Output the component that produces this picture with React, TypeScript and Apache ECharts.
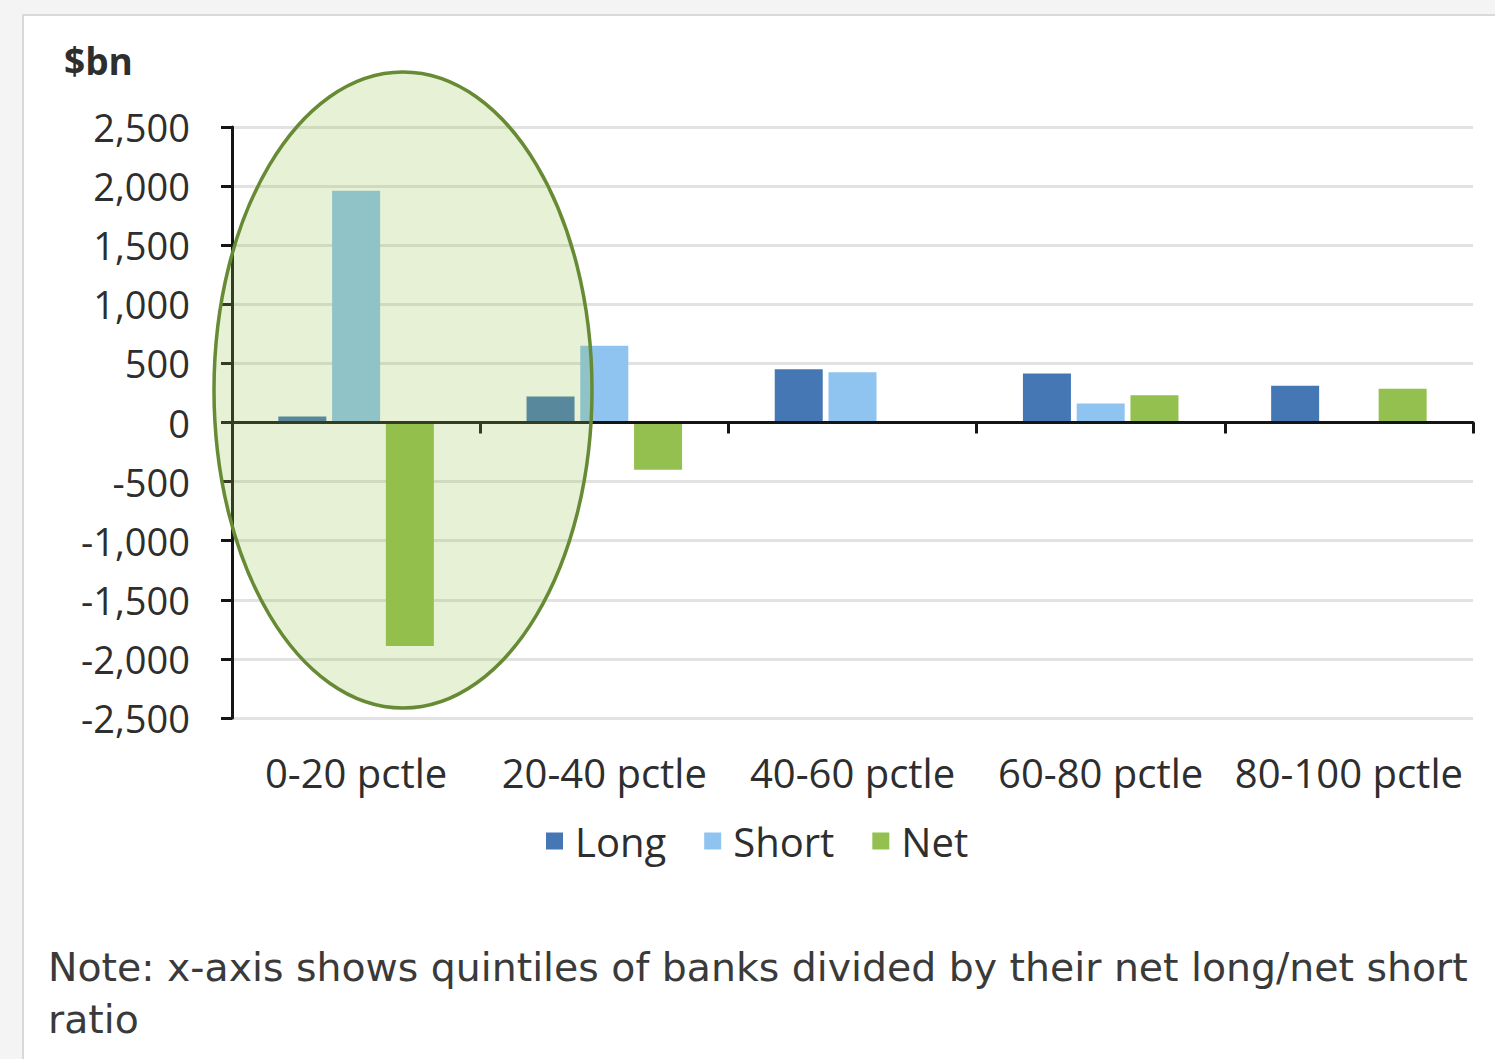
import React, { useEffect, useRef } from "react";
import * as echarts from "echarts";

// Quintile buckets of banks, ranked by net long / net short ratio
const categories = ["0-20 pctle", "20-40 pctle", "40-60 pctle", "60-80 pctle", "80-100 pctle"];

// Positions in $bn
const longValues = [50, 220, 450, 415, 310];
const shortValues = [1960, 650, 425, 160, 0];
const netValues = [-1890, -400, 0, 230, 285];

const yTicks = { min: -2500, max: 2500, interval: 500 };

const noteLines = [
  "Note: x-axis shows quintiles of banks divided by their net long/net short",
  "ratio",
];

const FONT = "'Open Sans', 'Noto Sans', sans-serif";
const NOTE_FONT = "'DejaVu Sans', 'Open Sans', sans-serif";
const TEXT = "#2e2e2e";

export default function App() {
  const ref = useRef<HTMLDivElement>(null);

  useEffect(() => {
    if (!ref.current) return;
    const chart = echarts.init(ref.current, null, { renderer: "svg" });

    const grid = { left: 232, right: 22, top: 127, bottom: 341 };

    // one text element per note line, 52px apart
    const noteGraphics = noteLines.map((line, i) => ({
      type: "text",
      left: 48,
      top: 947 + i * 52,
      style: {
        text: line,
        font: `39.4px ${NOTE_FONT}`,
        fill: "#3a3a3a",
      },
    }));

    chart.setOption({
      animation: false,
      backgroundColor: "#f4f4f4",
      textStyle: { fontFamily: FONT },
      grid,
      legend: {
        data: ["Long", "Short", "Net"],
        left: 541,
        top: 816,
        icon: "rect",
        itemWidth: 17,
        itemHeight: 17,
        itemGap: 38,
        textStyle: { fontSize: 40, color: TEXT, fontFamily: FONT, padding: [0, 0, 0, 7] },
      },
      xAxis: [
        {
          type: "category",
          data: categories,
          axisLine: { onZero: true, lineStyle: { color: "#151515", width: 3 } },
          axisTick: { show: true, length: 11, lineStyle: { color: "#151515", width: 3 } },
          axisLabel: { show: false },
          splitLine: { show: false },
          z: 3,
        },
        {
          type: "category",
          data: categories,
          position: "bottom",
          axisLine: { show: false, onZero: false },
          axisTick: { show: false },
          axisLabel: { interval: 0, fontSize: 40, color: TEXT, margin: 34, fontFamily: FONT },
        },
      ],
      yAxis: {
        type: "value",
        min: yTicks.min,
        max: yTicks.max,
        interval: yTicks.interval,
        axisLine: { show: true, lineStyle: { color: "#151515", width: 3 } },
        axisTick: { show: true, length: 11, lineStyle: { color: "#151515", width: 3 } },
        axisLabel: {
          fontSize: 38,
          color: TEXT,
          margin: 42,
          fontFamily: FONT,
          formatter: (v: number) => v.toLocaleString("en-US"),
        },
        splitLine: { show: true, lineStyle: { color: "#e2e2e2", width: 3 } },
      },
      series: [
        {
          name: "Long",
          type: "bar",
          data: longValues,
          barWidth: 48,
          barGap: "12%",
          itemStyle: { color: "#4677b5" },
        },
        {
          name: "Short",
          type: "bar",
          data: shortValues,
          barWidth: 48,
          barGap: "12%",
          itemStyle: { color: "#8ec4ef" },
        },
        {
          name: "Net",
          type: "bar",
          data: netValues,
          barWidth: 48,
          barGap: "12%",
          itemStyle: { color: "#93c04e" },
        },
      ],
      graphic: [
        {
          type: "rect",
          z: -10,
          silent: true,
          shape: { x: 23, y: 15, width: 1500, height: 1100 },
          style: { fill: "#ffffff", stroke: "#d9d9d9", lineWidth: 2 },
        },
        {
          type: "text",
          left: 64,
          top: 42,
          style: {
            text: "$bn",
            font: `bold 37px ${FONT}`,
            fill: TEXT,
          },
        },
        // highlight around the lowest quintile
        {
          type: "ellipse",
          z: 100,
          silent: true,
          shape: { cx: 403, cy: 390, rx: 189, ry: 318 },
          style: {
            fill: "rgba(145, 195, 75, 0.23)",
            stroke: "#678a35",
            lineWidth: 3.5,
          },
        },
        ...noteGraphics,
      ],
    });

    return () => chart.dispose();
  }, []);

  return (
    <div
      ref={ref}
      style={{ position: "absolute", left: 0, top: 0, width: 1495, height: 1059 }}
    />
  );
}
